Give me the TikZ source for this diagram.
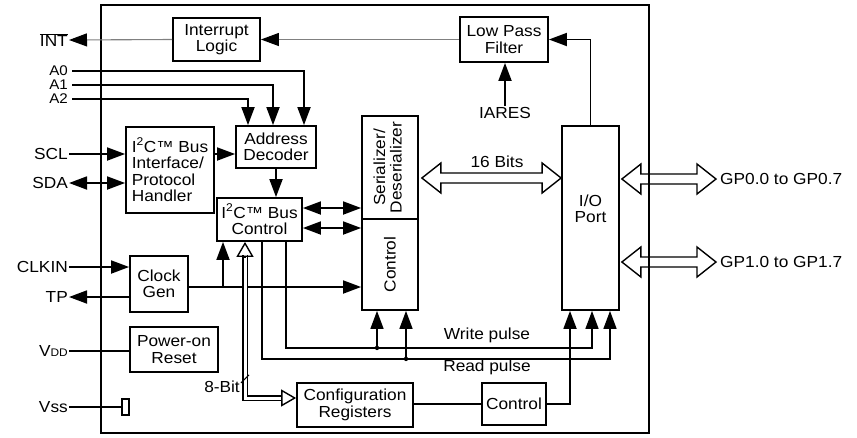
\documentclass[tikz,border=0pt]{standalone}
\usepackage{fontspec}
\setmainfont[FakeStretch=1.08]{Liberation Sans}
\usetikzlibrary{calc,arrows.meta}

\newcommand{\busarrow}[2]{%
  \draw[bus] let \p1=(#1), \p2=(#2) in
    (\x1,\y1) -- ++(19pt,15pt) -- ++(0pt,-10pt) -- (\x2-19pt,\y1+5pt) -- ++(0pt,10pt)
    -- (\x2,\y1) -- ++(-19pt,-15pt) -- ++(0pt,10pt) -- (\x1+19pt,\y1-5pt) -- ++(0pt,-10pt) -- cycle;}

\begin{document}
\begin{tikzpicture}[x=1pt,y=-1pt,font=\fontsize{16}{16.5}\selectfont,
  >={Triangle[length=18pt,width=13pt]},
  box/.style={draw,line width=1.8pt,align=center,inner sep=0pt},
  arr/.style={->,line width=1.8pt},
  dbl/.style={<->,line width=1.8pt},
  wire/.style={line width=1.8pt},
  faint/.style={draw=gray,line width=1.1pt,-{Triangle[length=18pt,width=13pt,color=black]}},
  pulse/.style={->,line width=1.5pt},
  bus/.style={line width=1.4pt},
  busline/.style={double,double distance=3pt,line width=1.4pt},
  hollow/.style={line width=1.4pt,-{Triangle[open,length=15pt,width=17pt]}},
  lbl/.style={inner sep=1pt},
  pin/.style={inner sep=0pt,anchor=east,font=\fontsize{14}{14}\selectfont}]
\useasboundingbox (0,0) rectangle (857,437);
\node[box,minimum width=548pt,minimum height=428pt] (chip) at (375,219) {};
\node[box,minimum width=87pt,minimum height=43pt] (intr) at (216.5,39.5) {Interrupt\\Logic};
\node[box,minimum width=88pt,minimum height=45pt] (lpf) at (504,39.5) {Low Pass\\Filter};
\node[box,minimum width=88pt,minimum height=86pt,align=left] (i2cif) at (170,170) {I\textsuperscript{2}C™ Bus\\Interface/\\Protocol\\Handler};
\node[box,minimum width=80pt,minimum height=42pt] (addr) at (276,147) {Address\\Decoder};
\node[box,minimum width=85pt,minimum height=43pt] (i2cctl) at (259.5,219.5) {I\textsuperscript{2}C™ Bus\\Control};
\node[box,minimum width=56pt,minimum height=103pt] (ser) at (390,167.5) {\rotatebox{90}{\begin{tabular}{@{}c@{}}Serializer/\\Deserializer\end{tabular}}};
\node[box,minimum width=56pt,minimum height=91pt] (ctl1) at (390,264.5) {\rotatebox{90}{Control}};
\node[box,minimum width=57pt,minimum height=184pt] (io) at (590.5,218) {};
\node[lbl,align=center] (iotxt) at ([yshift=9pt]io.center) {I/O\\Port};
\node[box,minimum width=58pt,minimum height=56pt] (clk) at (159,284) {Clock\\Gen};
\node[box,minimum width=88pt,minimum height=45pt] (por) at (174,349.5) {Power-on\\Reset};
\node[box,minimum width=116pt,minimum height=44pt] (cfg) at (355,405) {Configuration\\Registers};
\node[box,minimum width=64pt,minimum height=42pt] (ctl2) at (514,404) {Control};
\node[box,minimum width=7pt,minimum height=16pt] (vss) at (125.5,407) {};

\node[lbl,anchor=east] (int) at (69,40) {$\overline{\mbox{INT}}$};
\node[pin] (a0) at (68,71) {A0};
\node[pin] (a1) at (68,85) {A1};
\node[pin] (a2) at (68,99) {A2};
\node[lbl,anchor=east] (scl) at (69,154) {SCL};
\node[lbl,anchor=east] (sda) at (69,183) {SDA};
\node[lbl,anchor=east] (clkin) at (69,267) {CLKIN};
\node[lbl,anchor=east] (tp) at (69,297) {TP};
\node[lbl,anchor=east] (vdd) at (69,351) {V{\fontsize{11}{11}\selectfont DD}};
\node[lbl,anchor=east] (vssl) at (69,407) {Vss};
\node[lbl] (iares) at (505,113) {IARES};
\node[lbl,anchor=west] (gp0) at (719,179) {GP0.0 to GP0.7};
\node[lbl,anchor=west] (gp1) at (719,262) {GP1.0 to GP1.7};
\node[lbl] (bits) at (497,162) {16 Bits};
\node[lbl] (wp) at (487,335) {Write pulse};
\node[lbl] (rp) at (487,367) {Read pulse};
\node[lbl,anchor=east] (eight) at (241,387) {8-Bit};

\draw[faint] (lpf.west) -- (intr.east);
\draw[faint] (intr.west) -- (int.east);
\draw[arr] (io.north) |- (lpf.east);
\draw[arr] (iares.north) -- (iares.north |- lpf.south);
\draw[arr] ([xshift=4pt]a0.east) -| ([xshift=28pt]addr.north);
\draw[arr] ([xshift=4pt]a1.east) -| ([xshift=-3pt]addr.north);
\draw[arr] ([xshift=4pt]a2.east) -| ([xshift=-28pt]addr.north);
\draw[arr] (scl.east) -- (scl.east -| i2cif.west);
\draw[dbl] (sda.east) -- (sda.east -| i2cif.west);
\draw[arr] (scl.east -| i2cif.east) -- (scl.east -| addr.west);
\draw[arr] (addr.south) -- (addr.south |- i2cctl.north);
\draw[dbl] ([yshift=11.5pt]i2cctl.east) -- ([yshift=11.5pt]i2cctl.east -| ser.west);
\draw[dbl] ([yshift=-8.5pt]i2cctl.east) -- ([yshift=-8.5pt]i2cctl.east -| ctl1.west);
\draw[arr] (clkin.east) -- (clkin.east -| clk.west);
\draw[arr] (tp.east -| clk.west) -- (tp.east);
\coordinate (clkout) at ([yshift=-3pt]clk.east);
\draw[arr] (clkout) -- (clkout -| ctl1.west);
\draw[arr] ([xshift=-36.5pt]i2cctl.south |- clkout) -- ([xshift=-36.5pt]i2cctl.south);
\draw[wire] (vdd.east) -- (vdd.east -| por.west);
\draw[wire] (vssl.east) -- (vss.west);

\draw[pulse] ([xshift=26.5pt]i2cctl.south) -- ++(0,106) coordinate (wrturn) -| ([xshift=1.5pt]io.south);
\draw[pulse] ([xshift=2.5pt]i2cctl.south) -- ++(0,117) coordinate (rdturn) -| ([xshift=19.5pt]io.south);
\draw[pulse] ([xshift=-13pt]ctl1.south |- wrturn) -- ([xshift=-13pt]ctl1.south);
\draw[pulse] ([xshift=16pt]ctl1.south |- rdturn) -- ([xshift=16pt]ctl1.south);
\fill ([xshift=-13pt]ctl1.south |- wrturn) circle (2.2pt);
\fill ([xshift=16pt]ctl1.south |- rdturn) circle (2.2pt);
\draw[wire] (cfg.east |- ctl2.west) -- (ctl2.west);
\draw[arr] (ctl2.east) -| ([xshift=-20.5pt]io.south);

\coordinate (bustop) at ([xshift=-14.5pt]i2cctl.south);
\draw[busline] ([yshift=-13pt]bustop) |- ([xshift=-15pt,yshift=7pt]cfg.west);
\draw[hollow] ([yshift=-15pt]bustop) -- (bustop);
\draw[hollow] ([xshift=-15pt,yshift=7pt]cfg.west) -- ([yshift=7pt]cfg.west);
\draw[line width=1pt] ([yshift=-137pt]bustop) ++(-4,4) -- ++(8,-8);

\busarrow{$(ser.east)+(3,10.5)$}{io.west}
\busarrow{$(io.east |- gp0.west)+(2,0)$}{[xshift=-3pt]gp0.west}
\busarrow{$(io.east |- gp1.west)+(2,0)$}{[xshift=-3pt]gp1.west}
\end{tikzpicture}
\end{document}
